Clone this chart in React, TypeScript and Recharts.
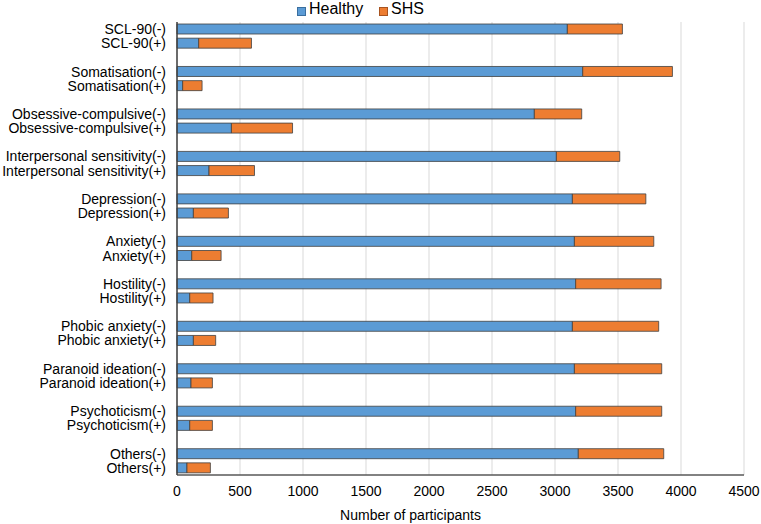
import React from 'react';
import { BarChart, Bar, XAxis, YAxis, CartesianGrid, Label } from 'recharts';

// Each SCL-90 factor gets a (-) row and a (+) row
const factors = [
  'SCL-90',
  'Somatisation',
  'Obsessive-compulsive',
  'Interpersonal sensitivity',
  'Depression',
  'Anxiety',
  'Hostility',
  'Phobic anxiety',
  'Paranoid ideation',
  'Psychoticism',
  'Others',
];

// values (participants)
const healthyNeg = [3098, 3220, 2836, 3011, 3138, 3154, 3164, 3138, 3154, 3164, 3185];
const shsNeg = [437, 712, 376, 503, 583, 630, 678, 685, 693, 683, 678];
const healthyPos = [172, 45, 432, 254, 130, 117, 101, 130, 111, 101, 79];
const shsPos = [419, 154, 485, 361, 278, 233, 185, 177, 170, 180, 186];

const xTicks = [0, 500, 1000, 1500, 2000, 2500, 3000, 3500, 4000, 4500];

const BLUE = '#5b9bd5';
const ORANGE = '#ed7d31';
const FONT = '"Liberation Sans", Arial, sans-serif';

// build rows with an empty spacer row between the groups
const rows: { name: string; healthy?: number; shs?: number }[] = [];
factors.forEach((f, i) => {
  rows.push({ name: `${f}(-)`, healthy: healthyNeg[i], shs: shsNeg[i] });
  rows.push({ name: `${f}(+)`, healthy: healthyPos[i], shs: shsPos[i] });
  if (i < factors.length - 1) rows.push({ name: '' });
});

// legend drawn as plain html over the chart so it takes no plot space
const TopLegend = () => (
  <div style={{ position: 'absolute', left: 0, top: 0, width: 761, height: 20, fontFamily: FONT, fontSize: 16, color: '#000' }}>
    <div style={{ position: 'absolute', left: 297, top: 7, width: 9, height: 9, background: BLUE, border: '1px solid #3a6f9f', boxSizing: 'border-box' }} />
    <span style={{ position: 'absolute', left: 309, top: 0, lineHeight: '17px' }}>Healthy</span>
    <div style={{ position: 'absolute', left: 379, top: 7, width: 9, height: 9, background: ORANGE, border: '1px solid #a85420', boxSizing: 'border-box' }} />
    <span style={{ position: 'absolute', left: 391, top: 0, lineHeight: '17px' }}>SHS</span>
  </div>
);

export default function App() {
  return (
    <div style={{ position: 'absolute', left: 0, top: 0, width: 761, height: 524, background: '#fff' }}>
      <BarChart
        width={761}
        height={524}
        data={rows}
        layout="vertical"
        margin={{ top: 22, right: 17, bottom: 0, left: 0 }}
        barSize={10}
      >
        <CartesianGrid horizontal={false} stroke="#d9d9d9" />
        <XAxis
          type="number"
          domain={[0, 4500]}
          ticks={xTicks}
          interval={0}
          height={49}
          tickLine={false}
          tickSize={6}
          tickMargin={5}
          axisLine={{ stroke: '#595959', strokeWidth: 1.5 }}
          tick={{ fill: '#000', fontSize: 14, fontFamily: FONT }}
        >
          <Label
            value="Number of participants"
            position="insideBottom"
            offset={4}
            dx={-50}
            style={{ fill: '#000', fontSize: 14, fontFamily: FONT }}
          />
        </XAxis>
        <YAxis
          type="category"
          dataKey="name"
          width={177}
          interval={0}
          tickLine={false}
          tickSize={6}
          tickMargin={5}
          axisLine={{ stroke: '#404040', strokeWidth: 1.5 }}
          tick={{ fill: '#000', fontSize: 14, fontFamily: FONT }}
        />
        <Bar dataKey="healthy" stackId="a" fill={BLUE} stroke="#404040" strokeWidth={0.8} isAnimationActive={false} />
        <Bar dataKey="shs" stackId="a" fill={ORANGE} stroke="#404040" strokeWidth={0.8} isAnimationActive={false} />
      </BarChart>
      <TopLegend />
    </div>
  );
}
